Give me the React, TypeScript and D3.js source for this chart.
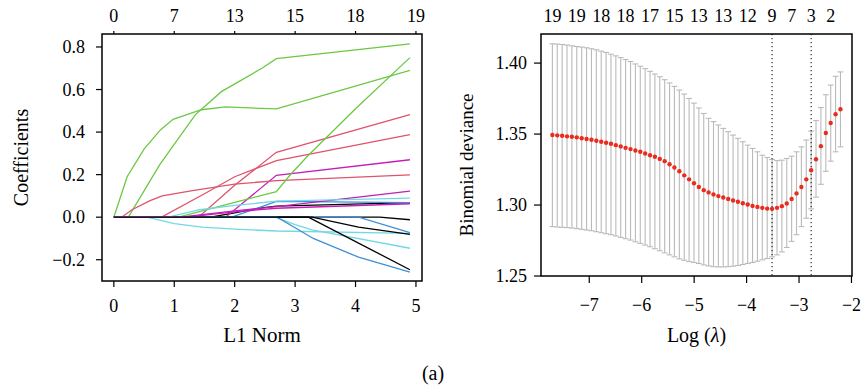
import React, { useEffect, useRef } from 'react';
import * as d3 from 'd3';

// ---- left panel: lasso coefficient paths (L1 norm, coefficient) ----
const l1Ticks = [0, 1, 2, 3, 4, 5];
const topDf = [0, 7, 13, 15, 18, 19];
const coefTicks = [-0.2, 0.0, 0.2, 0.4, 0.6, 0.8];

const coefPaths: [number, number][][] = [
  [[0, 0], [1.6, 0], [2.0, 0.02], [2.45, 0.044], [2.69, 0.052], [4.9, 0.068]],
  [[0, 0], [1.4, 0], [2.0, 0.15], [2.69, 0.305], [4.9, 0.482]],
  [[0, 0], [0.22, 0.19], [0.5, 0.32], [0.77, 0.41], [0.98, 0.46], [1.45, 0.505], [1.85, 0.518], [2.69, 0.509], [4.9, 0.69]],
  [[0, 0], [1.95, 0], [2.45, 0.05], [2.69, 0.074], [4.9, 0.068]],
  [[0, 0], [0.55, 0], [1.0, -0.03], [1.46, -0.047], [2.0, -0.056], [2.69, -0.065], [4.9, -0.076]],
  [[0, 0], [1.85, 0], [2.69, 0.197], [4.9, 0.27]],
  [[0, 0], [4.4, 0], [4.9, -0.012]],
  [[0, 0], [0.79, 0], [1.5, 0.11], [2.0, 0.19], [2.69, 0.266], [4.9, 0.388]],
  [[0, 0], [0.24, 0], [0.76, 0.247], [1.35, 0.482], [1.78, 0.59], [2.45, 0.7], [2.69, 0.745], [4.9, 0.815]],
  [[0, 0], [4.05, 0], [4.9, -0.073]],
  [[0, 0], [2.67, 0], [3.0, -0.035], [3.28, -0.06], [4.9, -0.146]],
  [[0, 0], [1.1, 0], [2.0, 0.03], [2.69, 0.05], [4.9, 0.122]],
  [[0, 0], [3.28, 0], [4.05, -0.047], [4.9, -0.081]],
  [[0, 0], [0.13, 0], [0.3, 0.035], [0.6, 0.078], [0.8, 0.1], [1.3, 0.125], [2.0, 0.155], [2.69, 0.172], [4.9, 0.199]],
  [[0, 0], [1.07, 0], [2.0, 0.07], [2.69, 0.12], [2.91, 0.196], [3.2, 0.285], [4.0, 0.51], [4.9, 0.75]],
  [[0, 0], [2.7, 0], [3.0, -0.05], [3.3, -0.1], [4.05, -0.188], [4.9, -0.258]],
  [[0, 0], [0.9, 0], [1.42, 0.035], [2.0, 0.055], [2.69, 0.075], [4.9, 0.09]],
  [[0, 0], [1.2, 0], [2.0, 0.025], [2.69, 0.042], [4.9, 0.063]],
  [[0, 0], [3.22, 0], [3.33, -0.016], [4.9, -0.247]],
];

// ---- right panel: cross-validation curve ----
const logLambda = [
  -7.703, -7.610, -7.517, -7.424, -7.331, -7.238, -7.144, -7.051, -6.958, -6.865,
  -6.772, -6.679, -6.586, -6.493, -6.400, -6.307, -6.213, -6.120, -6.027, -5.934,
  -5.841, -5.748, -5.655, -5.562, -5.469, -5.376, -5.282, -5.189, -5.096, -5.003,
  -4.910, -4.817, -4.724, -4.631, -4.538, -4.445, -4.351, -4.258, -4.165, -4.072,
  -3.979, -3.886, -3.793, -3.700, -3.607, -3.514, -3.420, -3.327, -3.234, -3.141,
  -3.048, -2.955, -2.862, -2.769, -2.676, -2.583, -2.489, -2.396, -2.303, -2.210,
];
const cvMean = [
  1.3493, 1.3491, 1.3488, 1.3484, 1.3481, 1.3477, 1.3470, 1.3465, 1.3460, 1.3453,
  1.3446, 1.3439, 1.3432, 1.3422, 1.3413, 1.3403, 1.3394, 1.3384, 1.3375, 1.3363,
  1.3351, 1.3340, 1.3325, 1.3309, 1.3287, 1.3264, 1.3238, 1.3209, 1.3181, 1.3153,
  1.3127, 1.3105, 1.3089, 1.3075, 1.3063, 1.3053, 1.3042, 1.3032, 1.3023, 1.3013,
  1.3004, 1.2994, 1.2987, 1.2980, 1.2975, 1.2973, 1.2980, 1.2992, 1.3011, 1.3042,
  1.3082, 1.3127, 1.3181, 1.3245, 1.3323, 1.3415, 1.3507, 1.3578, 1.3640, 1.3675,
];
const cvUpper = [
  1.4136, 1.4134, 1.4131, 1.4127, 1.4122, 1.4117, 1.4113, 1.4108, 1.4101, 1.4094,
  1.4084, 1.4075, 1.4063, 1.4051, 1.4039, 1.4025, 1.4011, 1.3994, 1.3978, 1.3961,
  1.3942, 1.3923, 1.3904, 1.3883, 1.3860, 1.3836, 1.3810, 1.3782, 1.3751, 1.3718,
  1.3684, 1.3645, 1.3611, 1.3588, 1.3564, 1.3540, 1.3517, 1.3493, 1.3470, 1.3446,
  1.3422, 1.3399, 1.3375, 1.3351, 1.3335, 1.3321, 1.3313, 1.3316, 1.3328, 1.3344,
  1.3375, 1.3410, 1.3458, 1.3521, 1.3595, 1.3687, 1.3777, 1.3845, 1.3907, 1.3938,
];
const cvLower = [
  1.2848, 1.2845, 1.2843, 1.2841, 1.2838, 1.2834, 1.2829, 1.2824, 1.2819, 1.2812,
  1.2805, 1.2798, 1.2791, 1.2782, 1.2772, 1.2763, 1.2753, 1.2741, 1.2730, 1.2718,
  1.2706, 1.2692, 1.2678, 1.2663, 1.2649, 1.2635, 1.2621, 1.2611, 1.2602, 1.2595,
  1.2588, 1.2578, 1.2571, 1.2566, 1.2564, 1.2564, 1.2566, 1.2569, 1.2574, 1.2581,
  1.2588, 1.2595, 1.2604, 1.2614, 1.2623, 1.2635, 1.2649, 1.2670, 1.2701, 1.2744,
  1.2791, 1.2848, 1.2907, 1.2973, 1.3056, 1.3146, 1.3238, 1.3309, 1.3375, 1.3410,
];
const topLogLambda = [-7.703, -7.238, -6.772, -6.307, -5.841, -5.376, -4.910, -4.445, -3.979, -3.514, -3.141, -2.769, -2.396];
const topNz = [19, 19, 18, 18, 17, 15, 13, 13, 12, 9, 7, 3, 2];
const lambdaMin = -3.514;
const lambda1se = -2.769;
const logTicks = [-7, -6, -5, -4, -3, -2];
const devTicks = [1.25, 1.3, 1.35, 1.4];

const palette = ['#000000', '#DF536B', '#6CC844', '#3E8FD8', '#72D8E4', '#C31FB6'];
const FONT = '"Liberation Serif", "Times New Roman", serif';
const minus = (s: string) => s.replace('-', '\u2212');

const App = () => {
  const ref = useRef<SVGSVGElement>(null);

  useEffect(() => {
    const svg = d3.select(ref.current);
    svg.selectAll('*').remove();
    const tickSize = 18;
    const titleSize = 20;

    // ---------- left panel ----------
    const L = { x0: 102, x1: 422, y0: 34, y1: 281 };
    const x = d3.scaleLinear().domain([-0.196, 5.1]).range([L.x0, L.x1]);
    const y = d3.scaleLinear().domain([-0.30, 0.861]).range([L.y1, L.y0]);
    const left = svg.append('g');

    const line = d3.line<[number, number]>().x(d => x(d[0])).y(d => y(d[1]));
    coefPaths.forEach((p, i) => {
      left.append('path')
        .attr('d', line(p))
        .attr('fill', 'none')
        .attr('stroke', palette[i % 6])
        .attr('stroke-width', 1.3);
    });

    left.append('rect')
      .attr('x', L.x0).attr('y', L.y0)
      .attr('width', L.x1 - L.x0).attr('height', L.y1 - L.y0)
      .attr('fill', 'none').attr('stroke', '#000').attr('stroke-width', 1.5);

    // bottom axis
    l1Ticks.forEach(t => {
      left.append('line').attr('x1', x(t)).attr('x2', x(t)).attr('y1', L.y1).attr('y2', L.y1 + 6).attr('stroke', '#000').attr('stroke-width', 1.2);
      left.append('text').attr('x', x(t)).attr('y', 312).attr('text-anchor', 'middle')
        .attr('font-family', FONT).attr('font-size', tickSize).text(String(t));
    });
    // top axis
    l1Ticks.forEach((t, i) => {
      left.append('line').attr('x1', x(t)).attr('x2', x(t)).attr('y1', L.y0).attr('y2', L.y0 - 3).attr('stroke', '#000').attr('stroke-width', 1.2);
      left.append('text').attr('x', x(t)).attr('y', 22).attr('text-anchor', 'middle')
        .attr('font-family', FONT).attr('font-size', tickSize).text(String(topDf[i]));
    });
    // left axis
    coefTicks.forEach(t => {
      left.append('line').attr('x1', L.x0).attr('x2', L.x0 - 6).attr('y1', y(t)).attr('y2', y(t)).attr('stroke', '#000').attr('stroke-width', 1.2);
      left.append('text').attr('x', 85).attr('y', y(t)).attr('dy', '0.35em').attr('text-anchor', 'end')
        .attr('font-family', FONT).attr('font-size', tickSize).text(minus(t.toFixed(1)));
    });
    left.append('text').attr('x', (L.x0 + L.x1) / 2).attr('y', 342).attr('text-anchor', 'middle')
      .attr('font-family', FONT).attr('font-size', titleSize + 1).text('L1 Norm');
    left.append('text').attr('transform', `translate(28, ${(L.y0 + L.y1) / 2}) rotate(-90)`)
      .attr('text-anchor', 'middle').attr('font-family', FONT).attr('font-size', titleSize).text('Coefficients');

    // ---------- right panel ----------
    const R = { x0: 541, x1: 852, y0: 34, y1: 276 };
    const xr = d3.scaleLinear().domain([-7.92, -1.99]).range([R.x0, R.x1]);
    const yr = d3.scaleLinear().domain([1.25, 1.4205]).range([R.y1, R.y0]);
    const right = svg.append('g');
    const barw = (d3.max(logLambda)! - d3.min(logLambda)!) * 0.01;
    const grey = '#bababa';

    logLambda.forEach((l, i) => {
      right.append('line').attr('x1', xr(l)).attr('x2', xr(l)).attr('y1', yr(cvUpper[i])).attr('y2', yr(cvLower[i]))
        .attr('stroke', grey).attr('stroke-width', 1.1);
      [cvUpper[i], cvLower[i]].forEach(v => {
        right.append('line').attr('x1', xr(l - barw)).attr('x2', xr(l + barw)).attr('y1', yr(v)).attr('y2', yr(v))
          .attr('stroke', grey).attr('stroke-width', 1.1);
      });
    });
    [lambdaMin, lambda1se].forEach(l => {
      right.append('line').attr('x1', xr(l)).attr('x2', xr(l)).attr('y1', R.y0).attr('y2', R.y1)
        .attr('stroke', '#000').attr('stroke-width', 1).attr('stroke-dasharray', '1.2 2.8');
    });
    right.selectAll('circle.pt').data(logLambda).enter().append('circle')
      .attr('cx', d => xr(d)).attr('cy', (d, i) => yr(cvMean[i])).attr('r', 2.2).attr('fill', '#ea2b1d');

    right.append('rect')
      .attr('x', R.x0).attr('y', R.y0)
      .attr('width', R.x1 - R.x0).attr('height', R.y1 - R.y0)
      .attr('fill', 'none').attr('stroke', '#000').attr('stroke-width', 1.5);

    logTicks.forEach(t => {
      right.append('line').attr('x1', xr(t)).attr('x2', xr(t)).attr('y1', R.y1).attr('y2', R.y1 + 7).attr('stroke', '#000').attr('stroke-width', 1.2);
      right.append('text').attr('x', xr(t)).attr('y', 311).attr('text-anchor', 'middle')
        .attr('font-family', FONT).attr('font-size', tickSize).text(minus(String(t)));
    });
    devTicks.forEach(t => {
      right.append('line').attr('x1', R.x0).attr('x2', R.x0 - 7).attr('y1', yr(t)).attr('y2', yr(t)).attr('stroke', '#000').attr('stroke-width', 1.2);
      right.append('text').attr('x', 527).attr('y', yr(t)).attr('dy', '0.35em').attr('text-anchor', 'end')
        .attr('font-family', FONT).attr('font-size', tickSize).text(t.toFixed(2));
    });
    topLogLambda.forEach((l, i) => {
      right.append('text').attr('x', xr(l)).attr('y', 22).attr('text-anchor', 'middle')
        .attr('font-family', FONT).attr('font-size', tickSize).text(String(topNz[i]));
    });
    const xl = right.append('text').attr('x', (R.x0 + R.x1) / 2).attr('y', 342).attr('text-anchor', 'middle')
      .attr('font-family', FONT).attr('font-size', titleSize);
    xl.append('tspan').text('Log (');
    xl.append('tspan').attr('font-style', 'italic').text('\u03bb');
    xl.append('tspan').text(')');
    right.append('text').attr('transform', `translate(473, 165) rotate(-90)`)
      .attr('text-anchor', 'middle').attr('font-family', FONT).attr('font-size', 19).text('Binomial deviance');

    svg.append('text').attr('x', 433).attr('y', 380).attr('text-anchor', 'middle')
      .attr('font-family', FONT).attr('font-size', titleSize).text('(a)');
  }, []);

  return (
    <svg ref={ref} width={865} height={392}
      style={{ position: 'absolute', left: 0, top: 0, background: '#fff' }} />
  );
};

export default App;
